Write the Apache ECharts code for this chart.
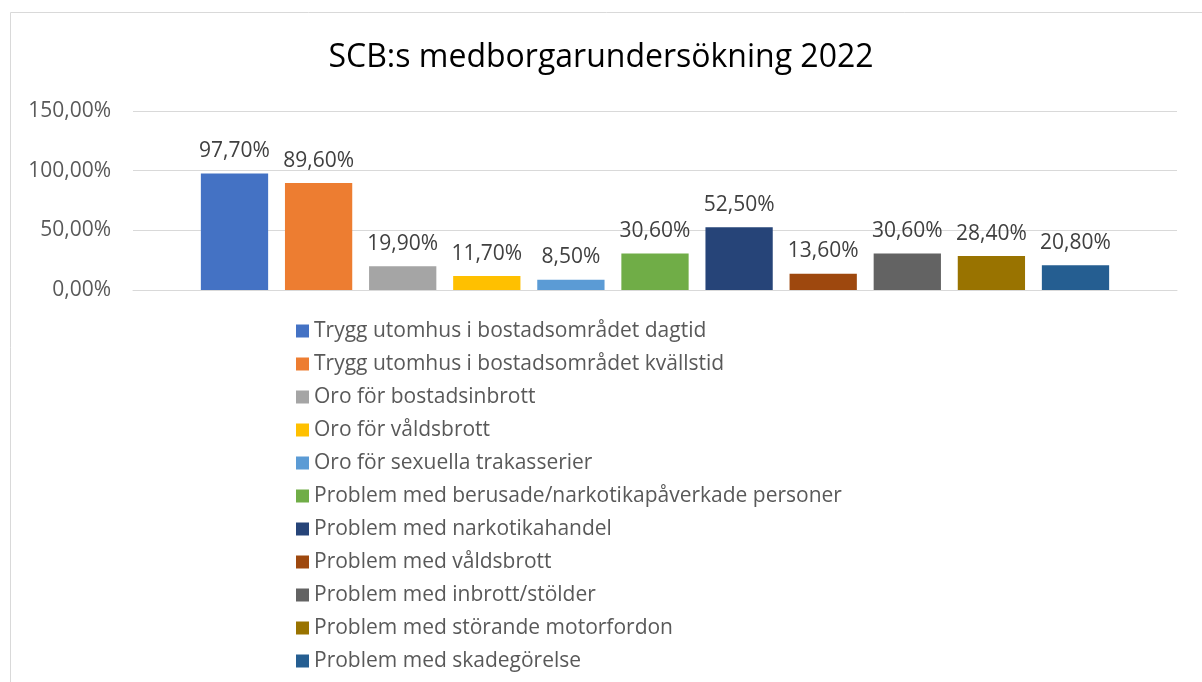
<!DOCTYPE html>
<html>
<head>
<meta charset="utf-8">
<script src="https://cdn.jsdelivr.net/npm/echarts@6/dist/echarts.min.js"></script>
<style>
  html, body { margin: 0; padding: 0; background: #fff; }
  #chart { width: 1202px; height: 682px; }
</style>
</head>
<body>
<div id="chart"></div>
<script>
// series names (legend order) and their values in percent
var seriesNames = [
  'Trygg utomhus i bostadsområdet dagtid',
  'Trygg utomhus i bostadsområdet kvällstid',
  'Oro för bostadsinbrott',
  'Oro för våldsbrott',
  'Oro för sexuella trakasserier',
  'Problem med berusade/narkotikapåverkade personer',
  'Problem med narkotikahandel',
  'Problem med våldsbrott',
  'Problem med inbrott/stölder',
  'Problem med störande motorfordon',
  'Problem med skadegörelse'
];
var seriesValues = [97.7, 89.6, 19.9, 11.7, 8.5, 30.6, 52.5, 13.6, 30.6, 28.4, 20.8];
var categories = [''];
var colors = ['#4472C4', '#ED7D31', '#A5A5A5', '#FFC000', '#5B9BD5', '#70AD47',
              '#264478', '#9E480E', '#636363', '#997300', '#255E91'];

var font = '"Open Sans"';

function pct(v) {
  return v.toFixed(2).replace('.', ',') + '%';
}

var myChart = echarts.init(document.getElementById('chart'));

var series = seriesNames.map(function (name, i) {
  return {
    name: name,
    type: 'bar',
    data: [seriesValues[i]],
    itemStyle: { color: colors[i] },
    barGap: '25%',
    barCategoryGap: '13%',
    label: {
      show: true,
      position: 'top',
      distance: 12,
      color: '#404040',
      fontFamily: font,
      fontSize: 21,
      formatter: function (p) { return pct(p.value); }
    }
  };
});

var option = {
  animation: false,
  color: colors,
  title: {
    text: 'SCB:s medborgarundersökning 2022',
    left: 'center',
    top: 37,
    textStyle: {
      color: '#000',
      fontFamily: font,
      fontSize: 32,
      fontWeight: 'normal'
    }
  },
  graphic: [{
    type: 'rect',
    shape: { x: 10.5, y: 12.5, width: 1200, height: 700 },
    style: { fill: 'none', stroke: '#D9D9D9', lineWidth: 1 },
    silent: true
  }],
  legend: {
    orient: 'vertical',
    left: 291,
    top: 315,
    icon: 'rect',
    itemWidth: 13,
    itemHeight: 13,
    itemGap: 11,
    data: seriesNames,
    textStyle: {
      color: '#595959',
      fontFamily: font,
      fontSize: 21,
      lineHeight: 22
    }
  },
  grid: {
    left: 133,
    right: 25,
    top: 111,
    bottom: 392,
    containLabel: false
  },
  xAxis: {
    type: 'category',
    data: categories,
    axisLine: { lineStyle: { color: '#D9D9D9' } },
    axisTick: { show: false },
    axisLabel: { show: false }
  },
  yAxis: {
    type: 'value',
    min: 0,
    max: 150,
    interval: 50,
    axisLine: { show: false },
    axisTick: { show: false },
    splitLine: { lineStyle: { color: '#D9D9D9', width: 1 } },
    axisLabel: {
      color: '#595959',
      fontFamily: font,
      fontSize: 21,
      margin: 22,
      formatter: function (v) { return pct(v); }
    }
  },
  series: series
};

myChart.setOption(option);
</script>
</body>
</html>
